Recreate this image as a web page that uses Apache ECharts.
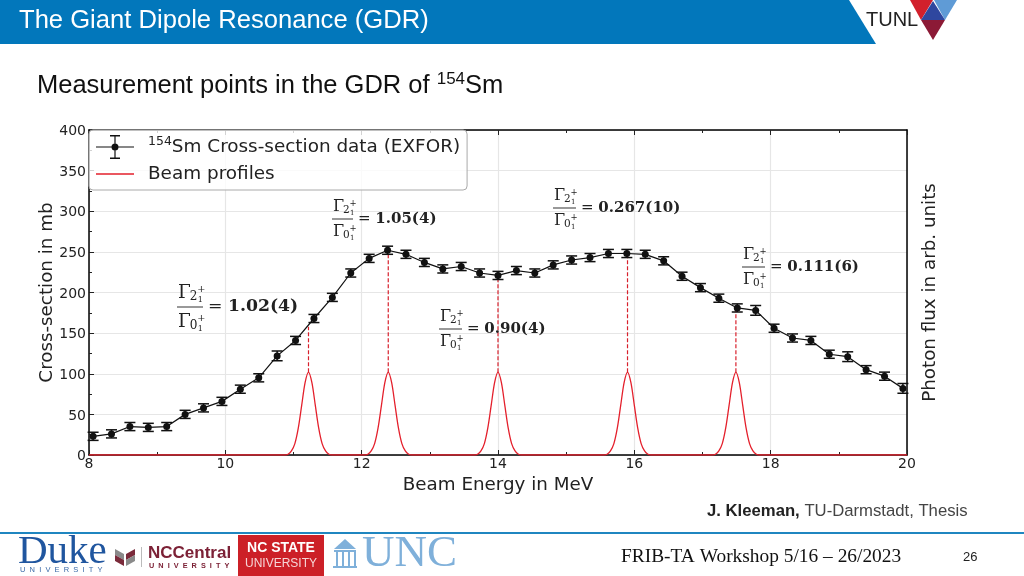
<!DOCTYPE html>
<html>
<head>
<meta charset="utf-8">
<style>html,body{margin:0;padding:0;background:#fff}#c{width:1024px;height:576px}</style>
<script src="https://cdn.jsdelivr.net/npm/echarts@6/dist/echarts.min.js"></script>
</head>
<body>
<div id="c"></div>
<script>
const energies = [8.06,8.33,8.6,8.87,9.14,9.41,9.68,9.95,10.22,10.49,10.76,11.03,11.3,11.57,11.84,12.11,12.38,12.65,12.92,13.19,13.46,13.73,14.0,14.27,14.54,14.81,15.08,15.35,15.62,15.89,16.16,16.43,16.7,16.97,17.24,17.51,17.78,18.05,18.32,18.59,18.86,19.13,19.4,19.67,19.94];
const crossSection = [23,26,35,34,35,50,58,66,81,95,122,141,168,194,224,242,252,247,237,229,232,224,221,227,224,234,240,243,248,248,247,239,220,206,193,181,178,156,144,141,124,121,105,97,82];
const errors = [5,5,5,5,5,5,5,5,5,5,6,5,5,5,5,5,5,5,5,5,5,5,5,5,5,5,5,5,5,5,5,5,5,5,5,5,6,5,5,5,5,6,5,5,6];
const peakCentres = [11.22,12.39,14.0,15.9,17.49];
const peakTops = [158,248,221,248,180];
const profileOffsets = [-0.35,-0.3,-0.25,-0.2,-0.15,-0.1,-0.05,0,0.05,0.1,0.15,0.2,0.25,0.3,0.35];
const profileValues = [0,1,5,14,33,61,89,102,89,61,33,14,5,1,0];
const ratioTexts = ['1.02(4)','1.05(4)','0.90(4)','0.267(10)','0.111(6)'];

const NAME_DATA = '154Sm Cross-section data (EXFOR)';
const NAME_BEAM = 'Beam profiles';
const AX = 'DejaVu Sans';
const SANS = 'Liberation Sans';
const SERIF = 'Liberation Serif';

const pointData = energies.map((e,i)=>[e,crossSection[i]]);
const barData = energies.map((e,i)=>[e,crossSection[i],errors[i]]);
const beamData = [[8,0]];
peakCentres.forEach(c=>profileOffsets.forEach((o,i)=>beamData.push([+(c+o).toFixed(3),profileValues[i]])));
beamData.push([20,0]);
const dashSeries = peakCentres.map((c,i)=>({
  type:'line', data:[[c,102],[c,peakTops[i]]], symbol:'none', silent:true, z:2,
  lineStyle:{color:'#d8202c',width:1.2,type:[4,2]}
}));

function T(x,y,text,size,color,o){
  return {type:'text',x,y,z:50,silent:true,style:Object.assign({text,fill:color,fontSize:size,fontFamily:SANS},o||{})};
}
function P(points,fill){return {type:'polygon',z:50,silent:true,shape:{points},style:{fill}};}
function R(x,y,w,h,fill){return {type:'rect',z:50,silent:true,shape:{x,y,width:w,height:h},style:{fill}};}

const ratioPlacement = [[177,307,26,1.15],[332,219,21,1],[439,329,23,1],[553,208,23,1],[742,267,23,1]];
function ratio(text,pl){
  const [x,y,w,s]=pl, col='#222', F='DejaVu Serif', out=[];
  out.push(R(x,y-0.5,w,1,'#333'));
  const g=(dy,sub)=>{
    out.push(T(x+1,y+dy,'Γ',16*s,col,{fontFamily:F,verticalAlign:'middle'}));
    out.push(T(x+11*s,y+dy+3*s,sub,10.5*s,col,{fontFamily:F,verticalAlign:'middle'}));
    out.push(T(x+17.5*s,y+dy-3*s,'+',8.5*s,col,{fontFamily:F,verticalAlign:'middle'}));
    out.push(T(x+18*s,y+dy+6*s,'1',7*s,col,{fontFamily:F,verticalAlign:'middle'}));
  };
  g(-12*s,'2'); g(13*s,'0');
  out.push({type:'text',x:x+w+5,y,z:50,silent:true,style:{
    text:'{e|= }{v|'+text+'}',verticalAlign:'middle',
    rich:{e:{fontFamily:F,fontSize:15*s,fill:col},v:{fontFamily:F,fontWeight:'bold',fontSize:15*s,fill:col}}
  }});
  return out;
}

const decor = [
  P([[0,0],[849,0],[876,44],[0,44]],'#0277bb'),
  T(19,21,'The Giant Dipole Resonance (GDR)',25.6,'#fff',{verticalAlign:'middle'}),
  T(866,20,'TUNL',20,'#222',{verticalAlign:'middle'}),
  P([[910,0],[933,0],[921,20]],'#d2202c'),
  P([[934,0],[957,0],[945,20]],'#5f9bd6'),
  P([[933,1],[945,20],[921,20]],'#2f479f'),
  P([[921,20],[945,20],[933,40]],'#8c1a36'),
  {type:'text',x:37,y:86,z:50,silent:true,style:{
    text:'{a|Measurement points in the GDR of }{s|154}{a|Sm}',verticalAlign:'middle',
    rich:{a:{fontFamily:SANS,fontSize:25.5,fill:'#111',lineHeight:30},
          s:{fontFamily:SANS,fontSize:17,fill:'#111',verticalAlign:'top',lineHeight:30}}
  }},
  {type:'text',x:707,y:511,z:50,silent:true,style:{
    text:'{b|J. Kleeman, }{r|TU-Darmstadt, Thesis}',verticalAlign:'middle',
    rich:{b:{fontFamily:SANS,fontWeight:'bold',fontSize:16.7,fill:'#222'},r:{fontFamily:SANS,fontSize:16.7,fill:'#444'}}
  }},
  R(0,532,1024,2,'#1f86c0'),
  T(621,557,'FRIB-TA Workshop 5/16 – 26/2023',19.4,'#111',{fontFamily:SERIF,verticalAlign:'middle'}),
  T(963,557,'26',13,'#222',{verticalAlign:'middle'}),
  // partner marks
  T(18,552,'Duke',41,'#20569f',{fontFamily:SERIF,verticalAlign:'middle'}),
  T(20,570,'U  N  I  V  E  R  S  I  T  Y',7.5,'#3a6aa8',{verticalAlign:'middle'}),
  P([[115,549],[124,554],[124,560],[115,555]],'#8a8a8a'),
  P([[135,549],[126,554],[126,560],[135,555]],'#7a2a3a'),
  P([[115,555],[124,560],[124,566],[115,561]],'#7a2a3a'),
  P([[135,555],[126,560],[126,566],[135,561]],'#8a8a8a'),
  R(141,547,1,20,'#bbb'),
  T(148,553,'NCCentral',17,'#7c2136',{fontWeight:'bold',verticalAlign:'middle'}),
  T(149,566,'U  N  I  V  E  R  S  I  T  Y',7.3,'#7c2136',{fontWeight:'bold',verticalAlign:'middle'}),
  R(238,535,86,41,'#cc2027'),
  T(281,548,'NC STATE',14,'#fff',{fontWeight:'bold',align:'center',verticalAlign:'middle'}),
  T(281,564,'UNIVERSITY',12,'#f6d5d6',{align:'center',verticalAlign:'middle'}),
  P([[334,549],[345,539],[356,549]],'#7fb0da'),
  R(334,550,22,2,'#7fb0da'),R(336,552,2,14,'#7fb0da'),R(342,552,2,14,'#7fb0da'),R(348,552,2,14,'#7fb0da'),R(354,552,2,14,'#7fb0da'),
  R(333,566,24,2,'#7fb0da'),
  T(362,554,'UNC',45,'#7fb0da',{fontFamily:SERIF,verticalAlign:'middle'})
];
ratioTexts.forEach((t,i)=>decor.push(...ratio(t,ratioPlacement[i])));

const errIcon = 'path://M14 0H24V1.4H14ZM18.4 1.4H19.6V22.6H18.4ZM14 22.6H24V24H14ZM0 11.4H38V12.6H0ZM15.5 12A3.5 3.5 0 1 1 22.5 12A3.5 3.5 0 1 1 15.5 12Z';
const lineIcon = 'path://M0 0H0.01V0.01H0ZM0 11.2H38V12.8H0ZM37.99 23.99H38V24H37.99Z';
const axisLine = {show:true,onZero:false,lineStyle:{color:'#000',width:1.5}};
const tick = {show:true,inside:true,length:5,lineStyle:{color:'#222',width:1}};
const minor = {show:true,length:3,splitNumber:2,lineStyle:{color:'#222',width:1}};
const grid = {show:true,lineStyle:{color:'#e6e6e6',width:1.2}};
const lab = {color:'#222',fontFamily:AX,fontSize:14,margin:3};
const nameSt = {color:'#222',fontFamily:AX,fontSize:18.3};

const chart = echarts.init(document.getElementById('c'),null,{renderer:'canvas'});
chart.setOption({
  animation:false,
  backgroundColor:'#fff',
  grid:{left:89,right:117,top:130,bottom:121},
  legend:{
    show:true,orient:'vertical',left:89,top:130,
    padding:[5,7,4,7],itemGap:3,itemWidth:38,itemHeight:24,
    backgroundColor:'rgba(255,255,255,0.8)',borderColor:'#aaa',borderWidth:1,borderRadius:4,
    data:[{name:NAME_DATA,icon:errIcon},{name:NAME_BEAM,icon:lineIcon}],
    formatter:n=>n===NAME_DATA?'{s|154}{t|Sm Cross-section data (EXFOR)}':'{t|'+n+'}',
    textStyle:{padding:[0,0,0,9],rich:{
      t:{fontFamily:AX,fontSize:18.4,color:'#222',lineHeight:24},
      s:{fontFamily:AX,fontSize:12.5,color:'#222',verticalAlign:'top',lineHeight:24}
    }}
  },
  xAxis:[
    {type:'value',min:8,max:20,interval:2,position:'bottom',name:'Beam Energy in MeV',nameLocation:'middle',nameGap:17,nameTextStyle:nameSt,
     axisLine,axisTick:tick,minorTick:minor,splitLine:grid,axisLabel:Object.assign({},lab,{margin:2})},
    {type:'value',min:8,max:20,interval:2,position:'top',axisLine,axisTick:tick,minorTick:minor,splitLine:{show:false},axisLabel:{show:false}}
  ],
  yAxis:[
    {type:'value',min:0,max:400,interval:50,position:'left',name:'Cross-section in mb',nameLocation:'middle',nameMoveOverlap:false,nameGap:33,nameTextStyle:nameSt,
     axisLine,axisTick:tick,minorTick:minor,splitLine:grid,axisLabel:Object.assign({},lab,{verticalAlign:'top',lineHeight:3})},
    {type:'value',min:0,max:400,interval:50,position:'right',name:'Photon flux in arb. units',nameLocation:'middle',nameRotate:90,nameGap:14,nameTextStyle:nameSt,
     axisLine,axisTick:{show:false},splitLine:{show:false},axisLabel:{show:false}}
  ],
  series:[
    {type:'custom',name:'errors',silent:true,z:3,data:barData,encode:{x:0,y:1},
     renderItem:(p,api)=>{
       const x=api.value(0),y=api.value(1),e=api.value(2);
       const hi=api.coord([x,y+e]),lo=api.coord([x,y-e]);
       const st={stroke:'#111',lineWidth:1.5,fill:null};
       const ln=(a,b,c,d)=>({type:'line',shape:{x1:a,y1:b,x2:c,y2:d},style:st});
       return {type:'group',children:[
         ln(hi[0],hi[1],lo[0],lo[1]),
         ln(hi[0]-5.5,hi[1],hi[0]+5.5,hi[1]),
         ln(lo[0]-5.5,lo[1],lo[0]+5.5,lo[1])
       ]};
     }},
    {type:'line',name:NAME_DATA,data:pointData,z:4,showSymbol:true,symbol:'circle',symbolSize:7,clip:false,
     lineStyle:{color:'#111',width:1.2},itemStyle:{color:'#111'}},
    {type:'line',name:NAME_BEAM,data:beamData,z:2,symbol:'none',smooth:0.3,
     lineStyle:{color:'#e4202c',width:1.3},itemStyle:{color:'#e4202c'}},
    ...dashSeries
  ],
  graphic:decor
});
</script>
</body>
</html>
